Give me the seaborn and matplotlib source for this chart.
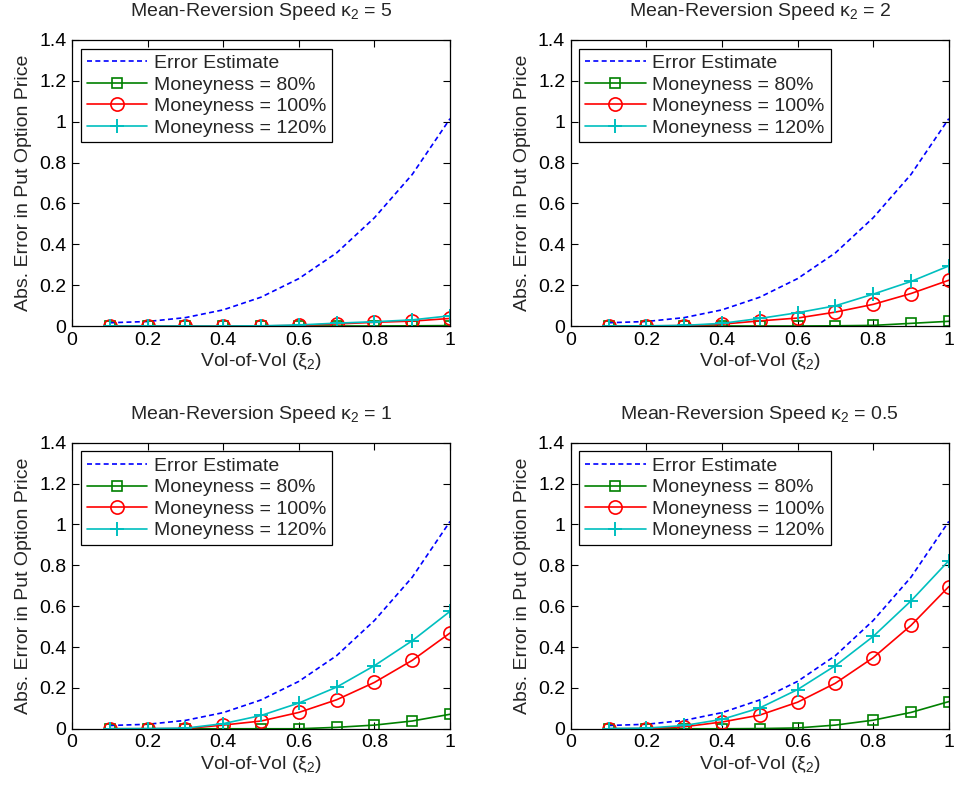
import numpy as np
import pandas as pd
import matplotlib
matplotlib.use("Agg")
import matplotlib.pyplot as plt
import seaborn as sns

# Vol-of-vol grid
xi = [0.1, 0.2, 0.3, 0.4, 0.5, 0.6, 0.7, 0.8, 0.9, 1.0]

# Error bound (same in every panel)
error_estimate = [0.016, 0.022, 0.041, 0.079, 0.141, 0.232, 0.358, 0.530, 0.742, 1.015]

# Mean-reversion speeds, one per panel
kappas = ["5", "2", "1", "0.5"]

# Absolute pricing errors, by moneyness
err_80 = [
    [0.000, 0.000, 0.000, 0.000, 0.000, 0.000, 0.000, 0.000, 0.001, 0.002],
    [0.000, 0.000, 0.000, 0.000, 0.000, 0.000, 0.001, 0.003, 0.013, 0.023],
    [0.000, 0.000, 0.000, 0.000, 0.000, 0.000, 0.007, 0.018, 0.038, 0.071],
    [0.000, 0.000, 0.000, 0.000, 0.001, 0.004, 0.018, 0.042, 0.080, 0.133],
]
err_100 = [
    [0.000, 0.000, 0.000, 0.000, 0.000, 0.003, 0.010, 0.018, 0.024, 0.037],
    [0.000, 0.000, 0.002, 0.009, 0.025, 0.039, 0.068, 0.106, 0.159, 0.224],
    [0.000, 0.000, 0.001, 0.018, 0.038, 0.080, 0.142, 0.227, 0.335, 0.469],
    [0.000, 0.001, 0.010, 0.033, 0.067, 0.130, 0.223, 0.348, 0.506, 0.696],
]
err_120 = [
    [0.000, 0.000, 0.000, 0.000, 0.001, 0.005, 0.014, 0.021, 0.030, 0.050],
    [0.000, 0.001, 0.003, 0.013, 0.037, 0.065, 0.099, 0.156, 0.218, 0.294],
    [0.000, 0.001, 0.003, 0.025, 0.065, 0.126, 0.204, 0.309, 0.431, 0.575],
    [0.001, 0.003, 0.016, 0.046, 0.102, 0.192, 0.309, 0.452, 0.626, 0.823],
]

sns.set_theme(style="ticks")
plt.rcParams["font.family"] = ["Liberation Sans", "DejaVu Sans"]
plt.rcParams["mathtext.fontset"] = "custom"
plt.rcParams["mathtext.rm"] = "Liberation Sans"
plt.rcParams["mathtext.it"] = "Liberation Sans"
plt.rcParams["mathtext.default"] = "regular"

fig = plt.figure(figsize=(9.56, 7.93), dpi=100)
lefts = [0.0753, 0.5970]
bottoms = [0.5889, 0.0810]
w = 0.3955
h = 0.3607

FS = 14
for i, kappa in enumerate(kappas):
    r, c = divmod(i, 2)
    ax = fig.add_axes([lefts[c], bottoms[r], w, h])
    df = pd.DataFrame({"xi": xi, "est": error_estimate,
                       "m80": err_80[i], "m100": err_100[i], "m120": err_120[i]})
    sns.lineplot(data=df, x="xi", y="est", ax=ax, color="#0000ff",
                 linestyle=(0, (3, 2)), linewidth=1.2, label="Error Estimate")
    sns.lineplot(data=df, x="xi", y="m80", ax=ax, color="#008000",
                 marker="s", markersize=7, markerfacecolor="none",
                 markeredgecolor="#008000", markeredgewidth=1.2,
                 linewidth=1.2, label="Moneyness = 80%")
    sns.lineplot(data=df, x="xi", y="m100", ax=ax, color="#ff0000",
                 marker="o", markersize=9.5, markerfacecolor="none",
                 markeredgecolor="#ff0000", markeredgewidth=1.2,
                 linewidth=1.2, label="Moneyness = 100%")
    sns.lineplot(data=df, x="xi", y="m120", ax=ax, color="#00bfbf",
                 marker="+", markersize=10, markeredgewidth=1.4,
                 markeredgecolor="#00bfbf",
                 linewidth=1.2, label="Moneyness = 120%")

    ax.set_xlim(0, 1)
    ax.set_ylim(0, 1.4)
    ax.set_xticks([0, 0.2, 0.4, 0.6, 0.8, 1])
    ax.set_xticklabels(["0", "0.2", "0.4", "0.6", "0.8", "1"])
    ax.set_yticks([0, 0.2, 0.4, 0.6, 0.8, 1, 1.2, 1.4])
    ax.set_yticklabels(["0", "0.2", "0.4", "0.6", "0.8", "1", "1.2", "1.4"])
    ax.tick_params(direction="in", length=5, width=0.8, top=True, right=True,
                   labelsize=FS, colors="black", pad=4)
    for sp in ax.spines.values():
        sp.set_visible(True)
        sp.set_color("black")
        sp.set_linewidth(0.9)
    ax.set_xlabel(r"Vol-of-Vol ($\xi_2$)", fontsize=FS, labelpad=2)
    ax.set_ylabel("Abs. Error in Put Option Price", fontsize=FS, labelpad=5)
    ax.set_title(r"Mean-Reversion Speed $\kappa_2$ = " + kappa, fontsize=FS, pad=17)
    leg = ax.legend(loc="upper left", fontsize=FS, frameon=True, fancybox=False,
                    framealpha=1, edgecolor="black", borderpad=0.3,
                    labelspacing=0.2, handlelength=3.1, handletextpad=0.35,
                    borderaxespad=0.45)
    leg.get_frame().set_linewidth(0.9)

fig.savefig("out.png", dpi=100)
